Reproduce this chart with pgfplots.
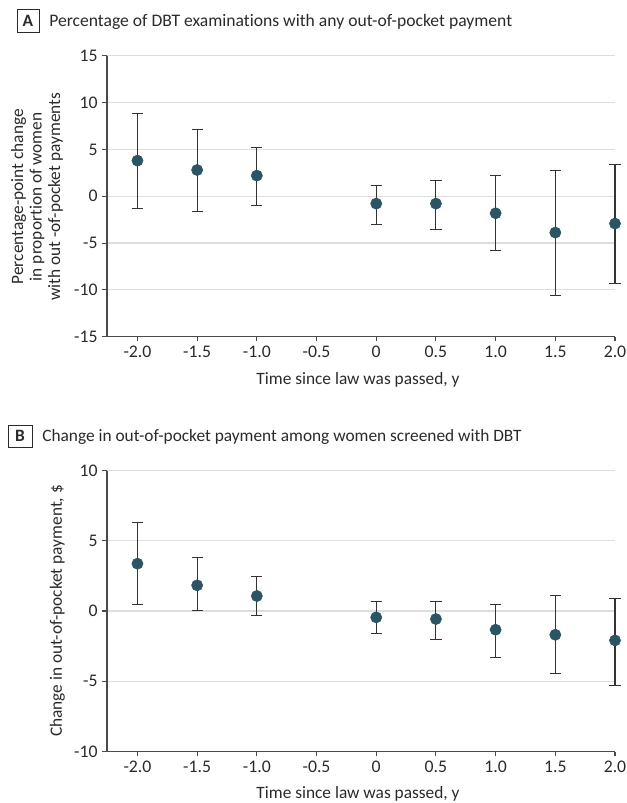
\documentclass[border=0pt]{standalone}
\usepackage{pgfplots}
\pgfplotsset{compat=1.18}
\usepackage{pgfplotstable}
\usepackage{fontspec}
\setmainfont{Carlito}[RawFeature={-liga;-clig;-calt;-dlig}]
\definecolor{dot}{HTML}{2B5464}
\definecolor{axgray}{HTML}{4A4A4A}
\definecolor{gridgray}{HTML}{DEDEDE}
\definecolor{txt}{HTML}{2A2A2A}
\definecolor{ebar}{HTML}{333333}

\pgfplotstableread{
x y ep em
-2.0 3.80 5.06 5.08
-1.5 2.80 4.30 4.40
-1.0 2.20 3.03 3.20
0.0 -0.79 1.92 2.21
0.5 -0.79 2.42 2.77
1.0 -1.82 3.99 4.02
1.5 -3.88 6.65 6.76
2.0 -2.92 6.29 6.36
}\dataA

\pgfplotstableread{
x y ep em
-2.0 3.37 2.92 2.90
-1.5 1.83 1.97 1.78
-1.0 1.07 1.40 1.40
0.0 -0.45 1.11 1.14
0.5 -0.57 1.23 1.43
1.0 -1.33 1.80 1.95
1.5 -1.69 2.78 2.75
2.0 -2.09 2.99 3.23
}\dataB

\pgfplotsset{
  panel/.style={
    scale only axis, width=381pt, height=210.75pt,
    xmin=-2.255, xmax=2.0,
    axis x line*=bottom, axis y line*=left,
    axis line style={-, axgray, line width=0.8pt},
    xtick={-2,-1.5,-1,-0.5,0,0.5,1,1.5,2},
    xticklabels={-2.0,-1.5,-1.0,-0.5,0,0.5,1.0,1.5,2.0},
    tick style={axgray, line width=0.8pt},
    tick align=outside, major tick length=3.5pt,
    ymajorgrids, grid style={gridgray, line width=0.9pt},
    ticklabel style={font=\fontsize{13.3}{15}\selectfont, text=txt},
    clip=false,
  },
  dots/.style={
    only marks, mark=*, mark size=4.2pt,
    mark options={fill=dot, draw=dot},
    error bars/.cd, y dir=both, y explicit,
    error bar style={ebar, line width=0.8pt},
    error mark options={ebar, line width=0.8pt, mark size=4.2pt, rotate=90},
  },
}

\begin{document}
\begin{tikzpicture}
\path[use as bounding box] (0,0) rectangle (469.5pt,602.25pt);

% Panel A
\node[draw=txt, line width=0.6pt, minimum width=16.5pt, minimum height=17.25pt, inner sep=0pt, text=txt, font=\fontsize{13}{15}\selectfont\bfseries] at (21pt,586.9pt) {A};
\node[anchor=base west, inner sep=0pt, text=txt, font=\fontsize{13.2}{15}\selectfont] at (36.75pt,582pt) {Percentage of DBT examinations with any out-of-pocket payment};

\begin{axis}[panel, at={(80.25pt,349.7pt)}, anchor=south west,
  ymin=-15, ymax=15, ytick={-15,-10,-5,0,5,10,15},
  yticklabels={-15,-10,-5,0,5,10,15}]
\addplot[dots] table[x=x, y=y, y error plus=ep, y error minus=em]{\dataA};
\end{axis}
\node[rotate=90, align=center, text=txt, font=\fontsize{13}{13.8}\selectfont] at (27.75pt,454.7pt) {Percentage-point change\\in proportion of women\\with out -of-pocket payments};
\node[anchor=base, inner sep=0pt, text=txt, font=\fontsize{13}{15}\selectfont] at (268.5pt,313.5pt) {Time since law was passed, y};

% Panel B
\node[draw=txt, line width=0.6pt, minimum width=18pt, minimum height=16.5pt, inner sep=0pt, text=txt, font=\fontsize{13}{15}\selectfont\bfseries] at (15pt,275.25pt) {B};
\node[anchor=base west, inner sep=0pt, text=txt, font=\fontsize{13}{15}\selectfont] at (31.5pt,270.75pt) {Change in out-of-pocket payment among women screened with DBT};

\begin{axis}[panel, at={(80.25pt,38.6pt)}, anchor=south west,
  ymin=-10, ymax=10, ytick={-10,-5,0,5,10},
  yticklabels={-10,-5,0,5,10}]
\addplot[dots] table[x=x, y=y, y error plus=ep, y error minus=em]{\dataB};
\end{axis}
\node[rotate=90, text=txt, font=\fontsize{13}{15}\selectfont] at (43.1pt,144pt) {Change in out-of-pocket payment, \$};
\node[anchor=base, inner sep=0pt, text=txt, font=\fontsize{13}{15}\selectfont] at (268.5pt,3pt) {Time since law was passed, y};
\end{tikzpicture}
\end{document}
